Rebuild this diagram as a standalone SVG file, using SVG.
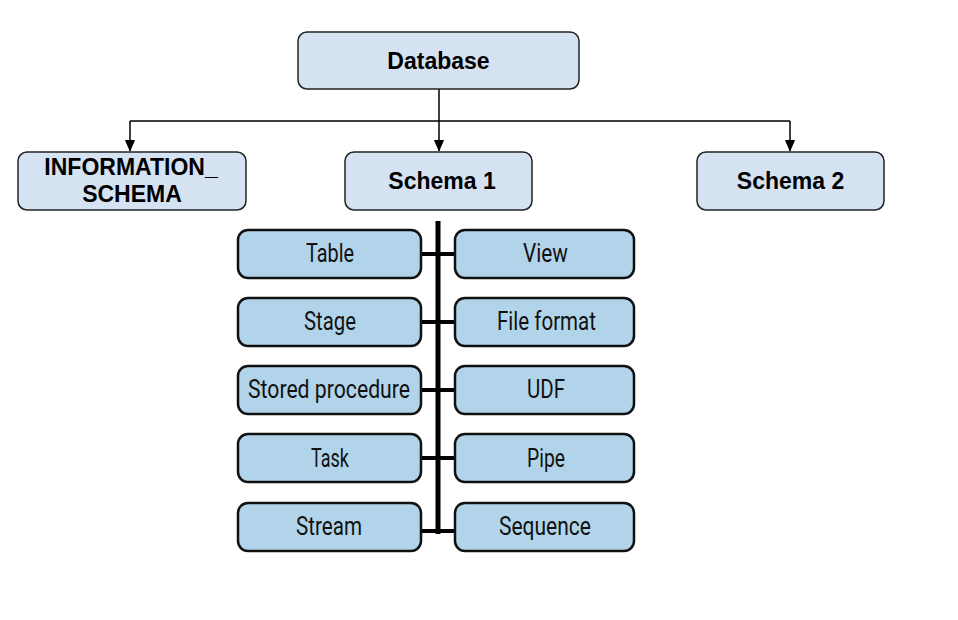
<svg xmlns="http://www.w3.org/2000/svg" width="958" height="620" viewBox="0 0 958 620">
<style>
.big rect{fill:#d5e2f1;stroke:#222;stroke-width:1.5}
.big text{font-family:"Liberation Sans",Arial,sans-serif;font-weight:bold;font-size:23px;fill:#000;text-anchor:middle}
.sm rect{fill:#b2d4ea;stroke:#111;stroke-width:2.5}
.sm text{font-family:Roboto,"Liberation Sans",sans-serif;font-size:26px;fill:#111;text-anchor:middle}
.ln{stroke:#000;stroke-width:1.5;fill:none}
.bar{stroke:#000;fill:none}
</style>
<defs>
<marker id="arr" markerWidth="12" markerHeight="14" refX="13" refY="6" orient="auto" markerUnits="userSpaceOnUse" viewBox="0 0 14 12">
<path d="M0,0 L14,6 L0,12 Z" fill="#000"/>
</marker>
</defs>
<rect width="958" height="620" fill="#fff"/>
<g id="connectors">
<path class="ln" d="M439,89 V151" marker-end="url(#arr)"/>
<path class="ln" d="M130,121 H790"/>
<path class="ln" d="M130,121 V151" marker-end="url(#arr)"/>
<path class="ln" d="M790,121 V151" marker-end="url(#arr)"/>
<path class="bar" stroke-width="5" d="M438,221 V534"/>
<path class="bar" stroke-width="4" d="M421,254 H456 M421,322 H456 M421,390 H456 M421,458 H456 M421,531 H456"/>
</g>
<g id="database" class="big"><rect x="298" y="32" width="281" height="57" rx="9"/><text x="438.5" y="69">Database</text></g>
<g id="information_schema" class="big"><rect x="18" y="152" width="228" height="58" rx="9"/><text x="131" y="175">INFORMATION_</text><text x="132" y="202">SCHEMA</text></g>
<g id="schema1" class="big"><rect x="345" y="152" width="187" height="58" rx="9"/><text x="442" y="189">Schema 1</text></g>
<g id="schema2" class="big"><rect x="697" y="152" width="187" height="58" rx="9"/><text x="790.5" y="189">Schema 2</text></g>
<g id="table" class="sm"><rect x="238" y="230" width="183" height="48" rx="10"/><text x="330" y="262" textLength="48" lengthAdjust="spacingAndGlyphs">Table</text></g>
<g id="view" class="sm"><rect x="455" y="230" width="179" height="48" rx="10"/><text x="545.5" y="262" textLength="45" lengthAdjust="spacingAndGlyphs">View</text></g>
<g id="stage" class="sm"><rect x="238" y="298" width="183" height="48" rx="10"/><text x="330" y="330" textLength="52" lengthAdjust="spacingAndGlyphs">Stage</text></g>
<g id="fileformat" class="sm"><rect x="455" y="298" width="179" height="48" rx="10"/><text x="546.5" y="330" textLength="99" lengthAdjust="spacingAndGlyphs">File format</text></g>
<g id="storedprocedure" class="sm"><rect x="238" y="366" width="183" height="48" rx="10"/><text x="329" y="398" textLength="162" lengthAdjust="spacingAndGlyphs">Stored procedure</text></g>
<g id="udf" class="sm"><rect x="455" y="366" width="179" height="48" rx="10"/><text x="546" y="398" textLength="38" lengthAdjust="spacingAndGlyphs">UDF</text></g>
<g id="task" class="sm"><rect x="238" y="434" width="183" height="48" rx="10"/><text x="330" y="467" textLength="38" lengthAdjust="spacingAndGlyphs">Task</text></g>
<g id="pipe" class="sm"><rect x="455" y="434" width="179" height="48" rx="10"/><text x="546" y="467" textLength="38" lengthAdjust="spacingAndGlyphs">Pipe</text></g>
<g id="stream" class="sm"><rect x="238" y="503" width="183" height="48" rx="10"/><text x="329" y="535" textLength="66" lengthAdjust="spacingAndGlyphs">Stream</text></g>
<g id="sequence" class="sm"><rect x="455" y="503" width="179" height="48" rx="10"/><text x="545" y="535" textLength="92" lengthAdjust="spacingAndGlyphs">Sequence</text></g>
</svg>
